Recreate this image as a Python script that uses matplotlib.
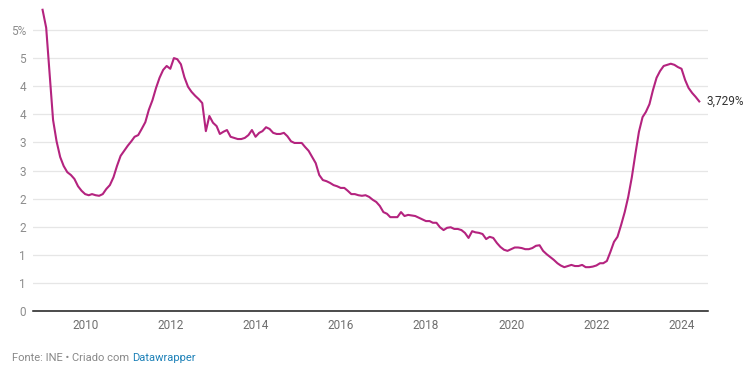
import matplotlib
matplotlib.use('Agg')
import matplotlib.pyplot as plt
import numpy as np
import pandas as pd

plt.rcParams['font.family'] = ['Roboto', 'DejaVu Sans']

# monthly rate (%), starting Jan 2009
START = '2009-01'
rates = [
    5.36, 5.04, 4.25, 3.40, 3.02, 2.74, 2.58, 2.47, 2.42, 2.35, 2.22, 2.14,
    2.08, 2.06, 2.08, 2.06, 2.05, 2.08, 2.17, 2.24, 2.38, 2.58, 2.76, 2.85,
    2.94, 3.02, 3.10, 3.13, 3.24, 3.36, 3.58, 3.75, 3.97, 4.15, 4.29, 4.36,
    4.31, 4.50, 4.48, 4.39, 4.16, 3.99, 3.90, 3.83, 3.77, 3.70, 3.20, 3.47,
    3.35, 3.29, 3.15, 3.19, 3.22, 3.10, 3.08, 3.06, 3.06, 3.08, 3.13, 3.22,
    3.10, 3.17, 3.20, 3.27, 3.24, 3.17, 3.15, 3.15, 3.17, 3.11, 3.02, 2.99,
    2.99, 2.99, 2.92, 2.85, 2.74, 2.63, 2.42, 2.33, 2.31, 2.28, 2.24, 2.22,
    2.19, 2.19, 2.14, 2.08, 2.08, 2.06, 2.05, 2.06, 2.03, 1.98, 1.94, 1.87,
    1.76, 1.73, 1.67, 1.67, 1.67, 1.76, 1.69, 1.71, 1.70, 1.69, 1.66, 1.63,
    1.60, 1.60, 1.57, 1.57, 1.49, 1.44, 1.48, 1.49, 1.46, 1.46, 1.44, 1.39,
    1.30, 1.42, 1.40, 1.39, 1.37, 1.28, 1.32, 1.30, 1.21, 1.14, 1.09, 1.07,
    1.10, 1.13, 1.13, 1.12, 1.10, 1.10, 1.12, 1.16, 1.17, 1.07, 1.01, 0.96,
    0.91, 0.85, 0.81, 0.78, 0.80, 0.82, 0.80, 0.80, 0.82, 0.78, 0.78, 0.79,
    0.81, 0.85, 0.85, 0.89, 1.05, 1.23, 1.32, 1.53, 1.76, 2.03, 2.38, 2.79,
    3.19, 3.45, 3.54, 3.68, 3.93, 4.15, 4.27, 4.36, 4.38, 4.40, 4.38, 4.34,
    4.31, 4.11, 3.97, 3.88, 3.81, 3.729,
]

y_ticks = [0, 0.5, 1, 1.5, 2, 2.5, 3, 3.5, 4, 4.5, 5]
y_labels = ['0', '1', '1', '2', '2', '3', '3', '4', '4', '5', '5%']
x_years = [2010, 2012, 2014, 2016, 2018, 2020, 2022, 2024]
end_label = '3,729%'

LINE_COLOR = '#b4237f'
GRID_COLOR = '#e6e6e6'
TICK_COLOR = '#8c8c8c'


def main():
    dates = pd.date_range(START, periods=len(rates), freq='MS')

    fig = plt.figure(figsize=(7.55, 3.73), dpi=100)
    ax = fig.add_axes([33 / 755, 62 / 373, 675 / 755, 306 / 373])

    ax.plot(dates, rates, color=LINE_COLOR, lw=1.5, solid_joinstyle='round',
            zorder=3)

    ax.set_xlim(pd.Timestamp('2008-10-11'), pd.Timestamp('2024-08-15'))
    ax.set_ylim(0, 306 / 56.2)

    ax.set_yticks(y_ticks)
    ax.set_yticklabels(y_labels)
    ax.set_xticks([pd.Timestamp('%d-01-01' % y) for y in x_years])
    ax.set_xticklabels([str(y) for y in x_years])

    for v in y_ticks[1:]:
        ax.axhline(v, color=GRID_COLOR, lw=0.9, zorder=1)

    for s in ['top', 'right', 'left']:
        ax.spines[s].set_visible(False)
    ax.spines['bottom'].set_color('#1a1a1a')
    ax.spines['bottom'].set_linewidth(1.1)

    ax.tick_params(axis='y', length=0, pad=5, labelsize=8.5,
                   labelcolor=TICK_COLOR)
    ax.tick_params(axis='x', length=0, pad=6, labelsize=8.5,
                   labelcolor='#6e6e6e')

    ax.annotate(end_label, xy=(dates[-1], rates[-1]), xytext=(5.5, 0),
                textcoords='offset points', va='center', ha='left',
                fontsize=8.5, color='#333333', annotation_clip=False)

    src = fig.text(12 / 755, 1 - 358 / 373, 'Fonte: INE \u2022 Criado com ',
                   fontsize=8, color='#888888', va='center', ha='left')
    fig.canvas.draw()
    bb = src.get_window_extent()
    fig.text(bb.x1 / fig.bbox.width, 1 - 358 / 373, 'Datawrapper',
             fontsize=8, color='#1d81b8', va='center', ha='left')

    fig.savefig('out.png', dpi=100)


if __name__ == '__main__':
    main()
